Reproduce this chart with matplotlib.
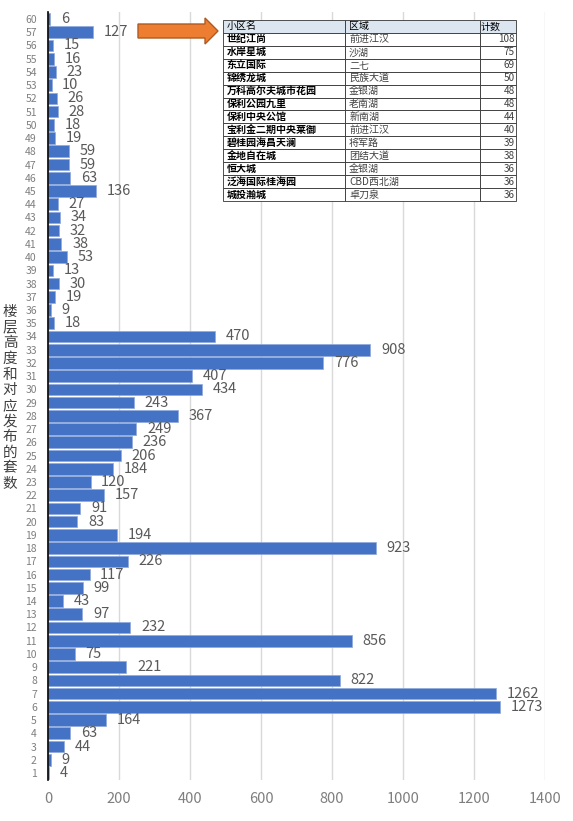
import matplotlib
matplotlib.use("Agg")
import matplotlib.pyplot as plt
from matplotlib.patches import Polygon

plt.rcParams["font.family"] = ["Noto Sans CJK SC", "DejaVu Sans"]

# floor -> number of listings
floors = list(range(1, 58)) + [60]
counts = [4, 9, 44, 63, 164, 1273, 1262, 822, 221, 75,
          856, 232, 97, 43, 99, 117, 226, 923, 194, 83,
          91, 157, 120, 184, 206, 236, 249, 367, 243, 434,
          407, 776, 908, 470, 18, 9, 19, 30, 13, 53,
          38, 32, 34, 27, 136, 63, 59, 59, 19, 18,
          28, 26, 10, 23, 16, 15, 127, 6]

# top communities table
tbl_header = ["小区名", "区域", "计数"]
tbl_names = ["世纪江尚", "水岸星城", "东立国际", "锦绣龙城", "万科高尔夫城市花园",
             "保利公园九里", "保利中央公馆", "宝利金二期中央莱御", "碧桂园海昌天澜",
             "金地自在城", "恒大城", "泛海国际桂海园", "城投瀚城"]
tbl_areas = ["前进江汉", "沙湖", "二七", "民族大道", "金银湖", "老南湖", "新南湖",
             "前进江汉", "将军路", "团结大道", "金银湖", "CBD西北湖", "卓刀泉"]
tbl_counts = [108, 75, 69, 50, 48, 48, 44, 40, 39, 38, 36, 36, 36]

W, H = 573, 821
fig = plt.figure(figsize=(W / 100, H / 100), dpi=100)
ax = fig.add_axes([48 / W, 1 - 779.6 / H, 497 / W, 767.2 / H])

pos = list(range(len(floors)))
ax.barh(pos, counts, height=0.88, color="#4472C4", edgecolor="#8fa9dc", linewidth=0.5, zorder=3)
for p, v in zip(pos, counts):
    ax.text(v + 30, p, str(v), va="center", ha="left", fontsize=10.5, color="#595959", zorder=4)

ax.set_ylim(-0.5, len(floors) - 0.5)
ax.set_xlim(0, 1400)
ax.set_xticks(range(0, 1401, 200))
ax.set_yticks(pos)
ax.set_yticklabels([str(f) for f in floors], fontsize=7.5, color="#7f7f7f")
ax.tick_params(axis="y", length=0, pad=8)
ax.tick_params(axis="x", length=0, pad=9, labelsize=10.5, labelcolor="#7f7f7f")
ax.grid(axis="x", color="#d9d9d9", linewidth=1, zorder=0)
for s in ["top", "right", "bottom"]:
    ax.spines[s].set_visible(False)
ax.spines["left"].set_color("black")
ax.spines["left"].set_linewidth(1.2)
ax.spines["left"].set_zorder(5)

fig.text(10 / W, 1 - 398 / H, "\n".join("楼层高度和对应发布的套数"), ha="center", va="center",
         fontsize=10.5, color="#404040", linespacing=1.15)

# table
tax = fig.add_axes([223 / W, 1 - 201 / H, 293 / W, 181 / H])
tax.axis("off")
rows = [[n, a, str(c)] for n, a, c in zip(tbl_names, tbl_areas, tbl_counts)]
tb = tax.table(cellText=rows, colLabels=tbl_header, bbox=[0, 0, 1, 1],
               colWidths=[122, 135, 36], cellLoc="left", colLoc="left")
tb.auto_set_font_size(False)
for (r, c), cell in tb.get_celld().items():
    cell.set_edgecolor("#333333")
    cell.set_linewidth(0.6)
    cell.PAD = 0.03
    t = cell.get_text()
    t.set_fontsize(7.2)
    if r == 0:
        cell.set_facecolor("#dce6f1")
        t.set_color("black")
    else:
        t.set_color("black" if c == 0 else "#404040")
        if c == 0:
            t.set_fontweight("bold")
    if c == 2 and r > 0:
        t.set_horizontalalignment("right")
        cell._loc = "right"

# orange arrow
pts = [(138, 24), (205, 24), (205, 18), (218, 31), (205, 44), (205, 38), (138, 38)]
arrow = Polygon([(x / W, 1 - y / H) for x, y in pts], closed=True, transform=fig.transFigure,
                facecolor="#ED7D31", edgecolor="#ae5a21", linewidth=1)
fig.patches.append(arrow)

fig.savefig("out.png", dpi=100)
